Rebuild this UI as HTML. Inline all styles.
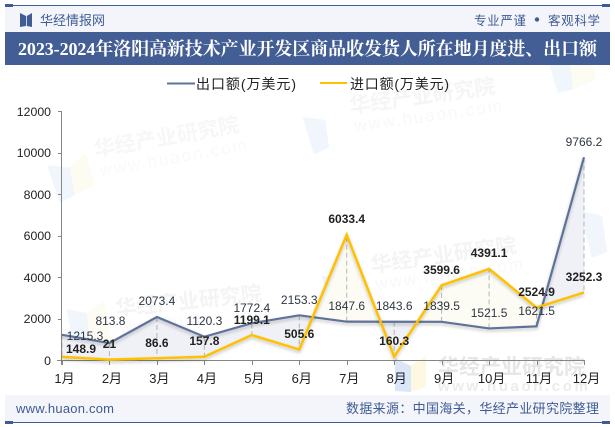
<!DOCTYPE html>
<html lang="zh">
<head>
<meta charset="utf-8">
<title>2023-2024年洛阳高新技术产业开发区商品收发货人所在地月度进、出口额</title>
<style>
html,body{margin:0;padding:0;background:#fff;}
#chart-root{display:block;width:615px;height:427px;}
text{font-family:"Liberation Sans","Noto Sans CJK SC",sans-serif;}
</style>
</head>
<body>
<svg id="chart-root" xmlns="http://www.w3.org/2000/svg" width="615" height="427" viewBox="0 0 615 427">
  <defs>
    <filter id="line-shadow" x="-10%" y="-10%" width="120%" height="130%">
      <feDropShadow dx="0" dy="2" stdDeviation="1.6" flood-color="#000" flood-opacity="0.24"/>
    </filter>
  </defs>
  <rect x="0" y="0" width="615" height="427" fill="#fff"/>

  <g>
    <g transform="rotate(-10 168 137)">
      <path d="M44 144 L66 150 L66 178 L50 183 Z" fill="#f1f6fc"/>
      <path d="M66 150 L84 138 L88 172 L66 178 Z" fill="#fdfcf3"/>
      <text x="93" y="144" font-size="21" font-weight="bold" fill="#f7f7f7">华经产业研究院</text>
      <text x="95" y="164" font-size="17" letter-spacing="2" fill="#f9f9f9">www.huaon.com</text>
    </g>
    <g transform="rotate(-8 423 90)">
      <path d="M300 100 L322 106 L322 134 L306 139 Z" fill="#f1f6fc"/>
      <path d="M550 70 L572 76 L572 110 L556 112 Z" fill="#f1f6fc"/>
      <path d="M572 76 L592 66 L596 104 L572 110 Z" fill="#fdfcf3"/>
      <text x="348" y="103" font-size="21" font-weight="bold" fill="#f5f5f5">华经产业研究院</text>
      <text x="350" y="122" font-size="17" letter-spacing="2" fill="#f8f8f8">www.huaon.com</text>
    </g>
    <g transform="rotate(-6 190 300)">
      <path d="M66 296 L86 302 L86 336 L70 340 Z" fill="#f1f6fc"/>
      <path d="M86 302 L104 292 L108 330 L86 336 Z" fill="#fdfcf3"/>
      <text x="115" y="308" font-size="21" font-weight="bold" fill="#f4f4f4">华经产业研究院</text>
      <text x="117" y="326" font-size="17" letter-spacing="2" fill="#f8f8f8">www.huaon.com</text>
    </g>
    <g transform="rotate(-8 445 255)">
      <path d="M320 258 L342 264 L342 298 L326 302 Z" fill="#f1f6fc"/>
      <path d="M342 264 L360 254 L364 292 L342 298 Z" fill="#fdfcf3"/>
      <path d="M585 230 L606 238 L606 275 L590 278 Z" fill="#f1f6fc"/>
      <text x="370" y="262" font-size="21" font-weight="bold" fill="#f4f4f4">华经产业研究院</text>
      <text x="372" y="280" font-size="17" letter-spacing="2" fill="#f8f8f8">www.huaon.com</text>
    </g>
    <g>
      <path d="M395 358 L411 366 L411 392 L395 391 Z" fill="#d9e7f9"/>
      <path d="M411 366 L426 356 L426 387 L411 392 Z" fill="#fdf8e2"/>
      <text x="438" y="374" font-size="21" font-weight="bold" fill="#e6e6e6">华经产业研究院</text>
      <text x="438" y="391" font-size="15" font-weight="bold" letter-spacing="2.6" fill="#ececec">www.huaon.com</text>
    </g>
  </g>

  <g>
    <rect x="5" y="6" width="605" height="26" fill="#f3f5fa"/>
    <rect x="5" y="5" width="605" height="1" fill="#3f5c94"/>
    <rect x="5" y="4" width="8" height="3" fill="#3f5c94"/>
    <rect x="602" y="4" width="8" height="3" fill="#3f5c94"/>
    <g>
      <path d="M20 13 L26 16 L26 26 L20 27 Z" fill="#3f5c94"/>
      <path d="M32 13 L26.8 16 L26.8 26 L32 27 Z" fill="#3f5c94"/>
    </g>
    <text x="40" y="25" font-size="13" fill="#3f5c94" textLength="65" lengthAdjust="spacing">华经情报网</text>
    <text x="474" y="25" font-size="12.5" fill="#3f5c94" textLength="52" lengthAdjust="spacing">专业严谨</text>
    <circle cx="537" cy="19.5" r="2.2" fill="#3f5c94"/>
    <text x="548" y="25" font-size="12.5" fill="#3f5c94" textLength="52" lengthAdjust="spacing">客观科学</text>
  </g>

  <rect x="5" y="32" width="605" height="33" fill="#425e95"/>
  <text x="18" y="55" font-size="18" font-weight="bold" fill="#fff" style="font-family:'Liberation Serif','Noto Serif CJK SC',serif" textLength="579" lengthAdjust="spacing">2023-2024年洛阳高新技术产业开发区商品收发货人所在地月度进、出口额</text>

  <g>
    <g>
      <line x1="167" y1="83.5" x2="195" y2="83.5" stroke="#5f7299" stroke-width="2"/>
      <text x="196" y="89" font-size="14" fill="#222" textLength="100" lengthAdjust="spacing">出口额(万美元)</text>
    </g>
    <g>
      <line x1="320" y1="83" x2="347" y2="83" stroke="#ffc000" stroke-width="2"/>
      <text x="350" y="89" font-size="14" fill="#222" textLength="99" lengthAdjust="spacing">进口额(万美元)</text>
    </g>
  </g>

  <g id="plot"></g>

  <g>
    <rect x="5" y="395" width="605" height="27" fill="#f3f5fa"/>
    <rect x="5" y="422" width="605" height="1" fill="#3f5c94"/>
    <rect x="5" y="421" width="8" height="3" fill="#3f5c94"/>
    <rect x="602" y="421" width="8" height="3" fill="#3f5c94"/>
    <text x="16" y="413" font-size="13" fill="#3f5c94" textLength="98" lengthAdjust="spacing">www.huaon.com</text>
    <text x="346" y="413" font-size="13" fill="#3f5c94" textLength="253" lengthAdjust="spacing">数据来源：中国海关，华经产业研究院整理</text>
  </g>
</svg>

<script>
const categories = ['1月','2月','3月','4月','5月','6月','7月','8月','9月','10月','11月','12月'];
const exportValues = [1215.3,813.8,2073.4,1120.3,1772.4,2153.3,1847.6,1843.6,1839.5,1521.5,1621.5,9766.2];
const importValues = [148.9,21,86.6,157.8,1199.1,505.6,6033.4,160.3,3599.6,4391.1,2524.9,3252.3];
const yTicks = [0,2000,4000,6000,8000,10000,12000];

const SVGNS = 'http://www.w3.org/2000/svg';
const plot = document.getElementById('plot');
const X0 = 62, X1 = 584, Y0 = 360, Y1 = 111, YMAX = 12000;
const xAt = i => X0 + (X1 - X0) * i / (categories.length - 1);
const yAt = v => Y0 - (Y0 - Y1) * v / YMAX;

function make(tag, attrs, text) {
  const el = document.createElementNS(SVGNS, tag);
  for (const k in attrs) el.setAttribute(k, attrs[k]);
  if (text !== undefined) el.textContent = text;
  plot.appendChild(el);
  return el;
}

/* pale band between the two series, tinted by which series is on top */
for (let i = 0; i < categories.length - 1; i++) {
  const a0 = exportValues[i], a1 = exportValues[i + 1];
  const b0 = importValues[i], b1 = importValues[i + 1];
  const x0 = xAt(i), x1 = xAt(i + 1);
  const d0 = a0 - b0, d1 = a1 - b1;
  const pieces = [];
  if (d0 * d1 < 0) {
    const t = d0 / (d0 - d1);
    const cx = x0 + (x1 - x0) * t;
    const cy = yAt(a0 + (a1 - a0) * t);
    pieces.push({ pts: [[x0, yAt(a0)], [cx, cy], [x0, yAt(b0)]], up: d0 > 0 });
    pieces.push({ pts: [[cx, cy], [x1, yAt(a1)], [x1, yAt(b1)]], up: d1 > 0 });
  } else {
    pieces.push({ pts: [[x0, yAt(a0)], [x1, yAt(a1)], [x1, yAt(b1)], [x0, yAt(b0)]], up: d0 + d1 > 0 });
  }
  pieces.forEach(p => {
    const band = make('polygon', {
      points: p.pts.map(q => q.join(',')).join(' '),
      fill: p.up ? '#eff1f7' : '#fdfcf4'
    });
    
    
  });
}

/* dashed drop lines joining the two series */
categories.forEach((c, i) => {
  const drop = make('line', {
    x1: xAt(i), x2: xAt(i), y1: yAt(exportValues[i]), y2: yAt(importValues[i]),
    stroke: '#b5b5b5', 'stroke-width': 1, 'stroke-dasharray': '5,3'
  });
  
  
});

/* axes */
const yAxis = make('line', { x1: X0 - 0.5, x2: X0 - 0.5, y1: Y1, y2: Y0 + 5, stroke: '#868686', 'stroke-width': 1 });



const xAxis = make('line', { x1: X0 - 5, x2: X1 + 1, y1: Y0 + 0.5, y2: Y0 + 0.5, stroke: '#868686', 'stroke-width': 1 });



yTicks.forEach(v => {
  const tick = make('line', { x1: X0 - 4, x2: X0, y1: Math.round(yAt(v)) + 0.5, y2: Math.round(yAt(v)) + 0.5, stroke: '#868686', 'stroke-width': 1 });
  
  
  const label = make('text', { x: 51, y: Math.round(yAt(v) + 4.5), 'font-size': 12.3, fill: '#222', 'text-anchor': 'end' }, String(v));
  
  
});

categories.forEach((c, i) => {
  const tick = make('line', { x1: Math.round(xAt(i)) + 0.5, x2: Math.round(xAt(i)) + 0.5, y1: Y0, y2: Y0 + 5, stroke: '#868686', 'stroke-width': 1 });
  
  
  const label = make('text', { x: xAt(i) + 2.5, y: Y0 + 23, 'font-size': 13, fill: '#222', 'text-anchor': 'middle' }, c);
  
  
});

/* series lines */
const linePoints = vals => vals.map((v, i) => xAt(i) + ',' + yAt(v)).join(' ');

const exportLine = make('polyline', { points: linePoints(exportValues), fill: 'none', stroke: '#5f7299', 'stroke-width': 2.2, 'stroke-linejoin': 'miter', filter: 'url(#line-shadow)' });



const importLine = make('polyline', { points: linePoints(importValues), fill: 'none', stroke: '#ffc000', 'stroke-width': 2.5, 'stroke-linejoin': 'miter', filter: 'url(#line-shadow)' });



/* value labels: centred 16px above the point's middle, with a few manual nudges */
const exportNudge = { 0: [23, 17], 1: [1, -7] };
const importNudge = { 0: [19, 8] };

exportValues.forEach((v, i) => {
  const n = exportNudge[i] || [0, 0];
  const label = make('text', { x: xAt(i) + n[0], y: Math.round(yAt(v) - 16 + n[1] + 4.5), 'font-size': 12, fill: '#2e3644', 'text-anchor': 'middle' }, String(v));
  
  
});

importValues.forEach((v, i) => {
  const n = importNudge[i] || [0, 0];
  const label = make('text', { x: xAt(i) + n[0], y: Math.round(yAt(v) - 16 + n[1] + 4.5), 'font-size': 12, 'font-weight': 'bold', fill: '#222', 'text-anchor': 'middle' }, String(v));
  
  
});
</script>
</body>
</html>
